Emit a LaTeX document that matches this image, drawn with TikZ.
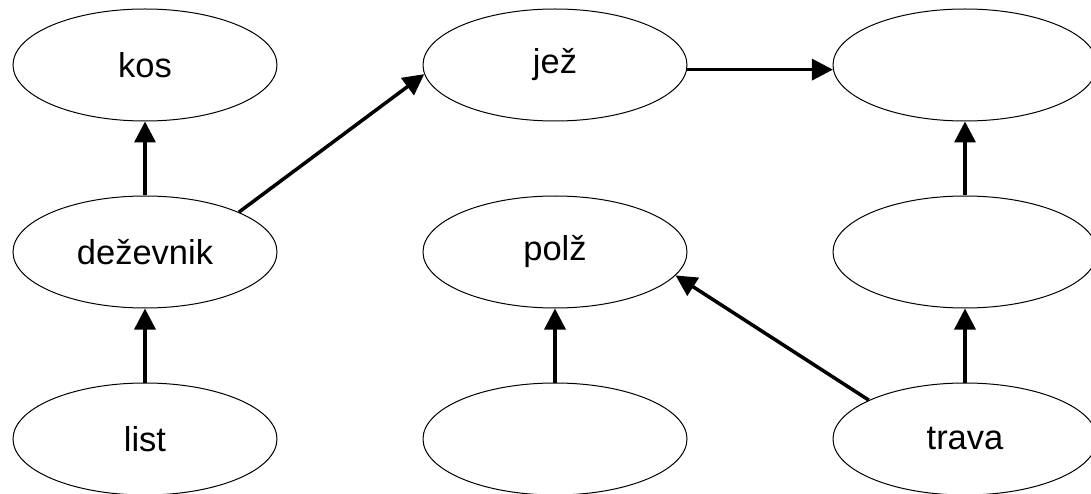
\documentclass[tikz,border=0pt]{standalone}
\usepackage{fontspec}
\setmainfont{Liberation Sans}
\usetikzlibrary{arrows.meta,positioning,shapes.geometric}

\begin{document}
\begin{tikzpicture}[-{Triangle[length=21pt,width=21pt]}, line width=3.5pt, node distance=74pt and 145pt]
    \tikzstyle{organism}=[ellipse, draw, line width=1pt, minimum width=264pt, minimum height=112pt, inner sep=0pt, font=\fontsize{34.5}{40}\selectfont]

    \useasboundingbox (0,0) rectangle (1091pt,-494pt);

    \node[organism] (kos) at (145pt,-65pt) {kos};
    \node[organism] (dezevnik) [below=of kos] {deževnik};
    \node[organism] (list) [below=of dezevnik] {list};
    \node[organism] (jez) [right=of kos] {jež};
    \node[organism] (polz) [below=of jez] {polž};
    \node[organism] (rastlina) [below=of polz] {};
    \node[organism] (plenilec) [right=of jez] {};
    \node[organism] (rastlinojedec) [below=of plenilec] {};
    \node[organism] (trava) [below=of rastlinojedec] {trava};

    \path (list) edge (dezevnik)
          (dezevnik) edge (kos)
          (dezevnik.23) edge (jez.184)
          (jez.-2) edge (plenilec.182)
          (rastlina) edge (polz)
          (trava.158) edge (polz.-11)
          (trava) edge (rastlinojedec)
          (rastlinojedec) edge (plenilec);

\end{tikzpicture}
\end{document}
